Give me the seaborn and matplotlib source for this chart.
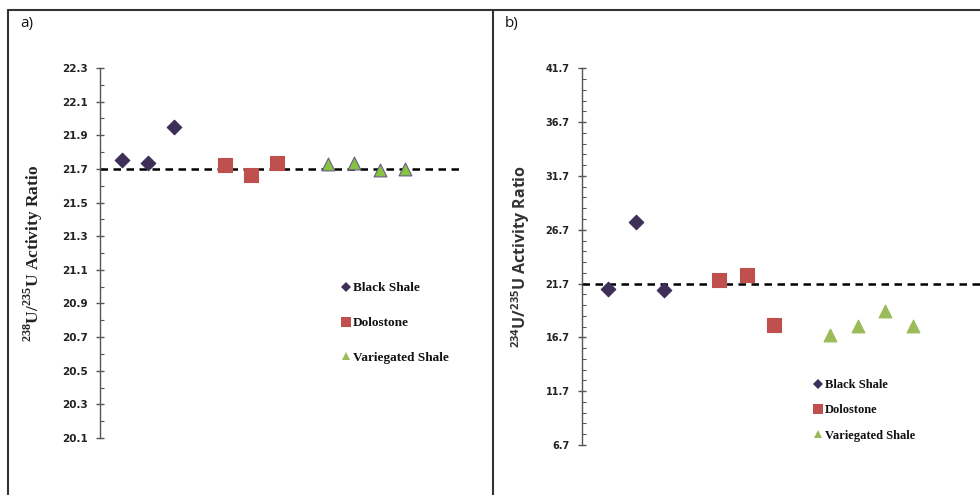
import numpy as np
import pandas as pd
import matplotlib
matplotlib.use("Agg")
import matplotlib.pyplot as plt
import seaborn as sns
from matplotlib.lines import Line2D
from matplotlib.ticker import FixedLocator, AutoMinorLocator

# ---------------- data ----------------
groups = ["Black Shale", "Dolostone", "Variegated Shale"]
sample_pos = {"Black Shale": [1, 2, 3], "Dolostone": [5, 6, 7], "Variegated Shale": [9, 10, 11, 12]}

a_black = [21.752, 21.736, 21.948]
a_dolo = [21.724, 21.664, 21.738]
a_varie = [21.728, 21.738, 21.694, 21.702]

b_black = [21.16, 27.39, 21.10]
b_dolo = [22.02, 22.46, 17.86]
b_varie = [16.93, 17.76, 19.15, 17.76]

ref_a = 21.7
ref_b = 21.7

a_ticks = [20.1, 20.3, 20.5, 20.7, 20.9, 21.1, 21.3, 21.5, 21.7, 21.9, 22.1, 22.3]
b_ticks = [6.7, 11.7, 16.7, 21.7, 26.7, 31.7, 36.7, 41.7]

colors = {"Black Shale": "#3d2f58", "Dolostone": "#c0504d", "Variegated Shale": "#9bbb59"}
tri_a_color = "#86c440"
markers = {"Black Shale": "D", "Dolostone": "s", "Variegated Shale": "^"}


def make_df(vals):
    rows = []
    for g, v in zip(groups, vals):
        for p, y in zip(sample_pos[g], v):
            rows.append({"group": g, "pos": p, "value": y})
    return pd.DataFrame(rows)


df_a = make_df([a_black, a_dolo, a_varie])
df_b = make_df([b_black, b_dolo, b_varie])

sns.set_style("white")
plt.rcParams["mathtext.fontset"] = "custom"
plt.rcParams["mathtext.rm"] = "Liberation Serif:bold"
plt.rcParams["mathtext.sf"] = "Open Sans:bold"

W, H = 980, 495
fig = plt.figure(figsize=(W / 100, H / 100), dpi=100)


def px_axes(x0, y0, x1, y1):
    return fig.add_axes([x0 / W, 1 - y1 / H, (x1 - x0) / W, (y1 - y0) / H])


ax_a = px_axes(100, 68, 463, 438)
ax_b = px_axes(582, 68.3, 980, 445)

tick_font = ["Liberation Sans Narrow", "DejaVu Sans"]


def style_axis(ax, ticks, nminor, xlim, ylim, tsize):
    ax.set_xlim(*xlim)
    ax.set_ylim(*ylim)
    ax.yaxis.set_major_locator(FixedLocator(ticks))
    ax.yaxis.set_minor_locator(AutoMinorLocator(nminor))
    ax.set_yticklabels([f"{t:.1f}" for t in ticks])
    for s in ["top", "right", "bottom"]:
        ax.spines[s].set_visible(False)
    ax.spines["left"].set_color("#555555")
    ax.spines["left"].set_linewidth(1.0)
    ax.set_xticks([])
    ax.tick_params(axis="y", which="major", direction="inout", length=6, width=1.0,
                   color="#555555", labelsize=tsize, pad=6, left=True)
    ax.tick_params(axis="y", which="minor", direction="in", length=3, width=0.8,
                   color="#555555", left=True)
    for lab in ax.get_yticklabels():
        lab.set_fontfamily(tick_font)
        lab.set_fontweight("bold")
        lab.set_color("#222222")
    ax.set_xlabel("")
    ax.patch.set_alpha(0)


def draw(ax, df, tri_face, tri_edge, sizes):
    for g in groups:
        sub = df[df.group == g]
        fc = tri_face if g == "Variegated Shale" else colors[g]
        ec = tri_edge if g == "Variegated Shale" else colors[g]
        sns.scatterplot(data=sub, x="pos", y="value", color=fc, marker=markers[g],
                        s=sizes[g], edgecolor=ec, linewidth=0.8, ax=ax, legend=False,
                        zorder=3, clip_on=False)


# ---- panel a ----
draw(ax_a, df_a, tri_a_color, "#6b5b8a", {"Black Shale": 55, "Dolostone": 95, "Variegated Shale": 85})
ax_a.axhline(ref_a, color="black", ls=(0, (3, 2.2)), lw=1.8, zorder=2)
style_axis(ax_a, a_ticks, 2, (0.144, 14.24), (20.1, 22.3), 7.5)
ax_a.set_ylabel(r"$^{238}$U/$^{235}$U Activity Ratio", fontfamily="Liberation Serif",
                fontweight="bold", fontsize=12.5, color="#222222", labelpad=12)

# ---- panel b ----
draw(ax_b, df_b, colors["Variegated Shale"], colors["Variegated Shale"],
     {"Black Shale": 55, "Dolostone": 90, "Variegated Shale": 85})
ax_b.axhline(ref_b, color="black", ls=(0, (3, 2.2)), lw=1.8, zorder=2)
style_axis(ax_b, b_ticks, 5, (0.05, 14.42), (6.7, 41.7), 7)
ax_b.set_ylabel(r"$^{\mathsf{234}}$U/$^{\mathsf{235}}$U Activity Ratio", fontfamily="Open Sans",
                fontweight="bold", fontsize=11.5, color="#333333", labelpad=10)


def legend(ax, anchor, fsize, spacing, ms):
    handles = [Line2D([], [], ls="", marker=markers[g], color=colors[g], markersize=ms[g],
                      markeredgewidth=0) for g in groups]
    leg = ax.legend(handles, groups, loc="upper left", bbox_to_anchor=(anchor[0] / W, 1 - anchor[1] / H),
                    bbox_transform=fig.transFigure, frameon=False, handlelength=0.6,
                    handletextpad=0.25, labelspacing=spacing, borderpad=0, borderaxespad=0,
                    prop={"family": "Liberation Serif", "weight": "bold", "size": fsize})
    for t in leg.get_texts():
        t.set_color("#111111")


legend(ax_a, (342, 282), 9.5, 1.72, {"Black Shale": 5, "Dolostone": 7, "Variegated Shale": 6})
legend(ax_b, (814, 379), 9, 1.07, {"Black Shale": 5, "Dolostone": 7, "Variegated Shale": 6})

# ---- table-like frame and panel labels ----
frame_kw = dict(color="#333333", lw=1.5, transform=fig.transFigure)
fig.add_artist(Line2D([8 / W, 1], [1 - 10 / H, 1 - 10 / H], **frame_kw))
fig.add_artist(Line2D([8 / W, 8 / W], [0, 1 - 10 / H], **frame_kw))
fig.add_artist(Line2D([493 / W, 493 / W], [0, 1 - 10 / H], **frame_kw))
fig.text(20 / W, 1 - 24 / H, "a)", fontfamily="Open Sans", fontsize=11, va="center", ha="left", color="#111111")
fig.text(505 / W, 1 - 24 / H, "b)", fontfamily="Open Sans", fontsize=11, va="center", ha="left", color="#111111")

fig.savefig("out.png", dpi=100)
